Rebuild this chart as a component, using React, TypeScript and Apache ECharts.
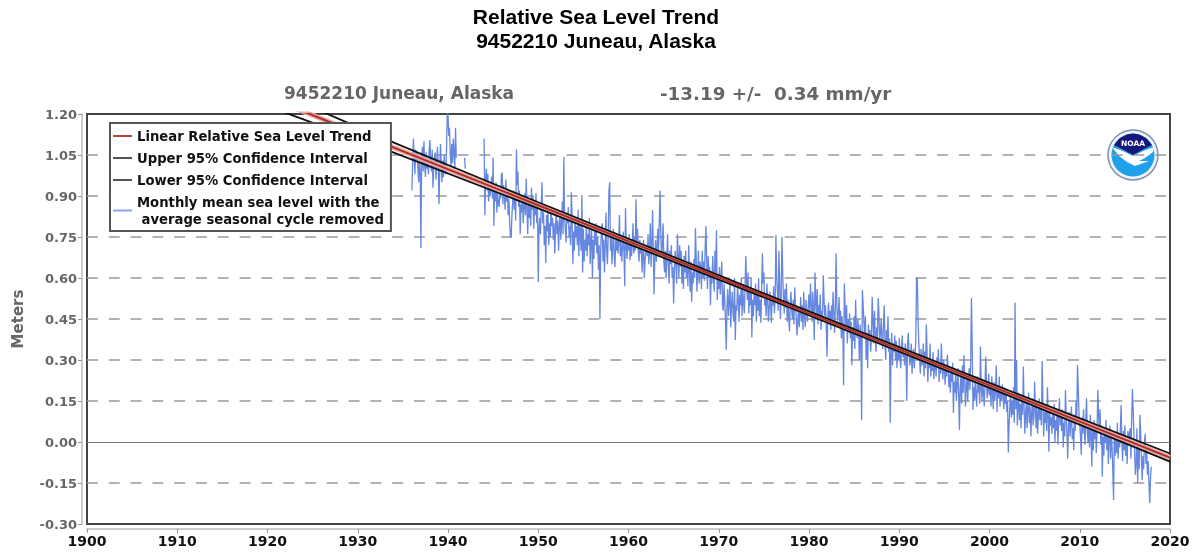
import React, { useEffect, useRef } from "react";
import * as echarts from "echarts";

const FIRST_YEAR = 1936;
const _ = null;
// monthly mean sea level (m), one row per year from 1936
const monthlyRows: (number | null)[][] = [
  [.92,1.02,1.11,1.05,.98,1.07,1.03,1.06,1.00,.95,1.04,.99],
  [.71,1.05,1.08,.99,1.10,1.01,.97,1.06,1.00,1.03,.98,1.07],
  [1.105,1.02,.99,1.07,.93,1.00,1.04,1.06,.96,1.02,1.08,1.01],
  [.87,.99,1.09,1.02,.95,1.03,.97,1.05,1.00,.98,1.06,1.20],
  [1.20,1.12,1.15,1.05,1.01,1.09,1.02,1.11,1.06,1.00,1.15,1.04],
  [_,_,_,_,_,_,_,_,_,_,1.04,1.00],
  [_,_,_,_,_,_,_,_,_,_,_,_],
  [_,_,_,_,_,_,_,_,_,_,_,_],
  [1.11,.83,.96,1.00,.92,.98,.88,.95,.90,.93,.97,.89],
  [1.04,.79,.93,.88,.95,.84,.91,.87,.86,.92,.89,.98],
  [.985,.87,.94,.90,.85,.96,.88,.92,.83,.89,.80,.75],
  [.75,.83,.88,.92,.85,.90,.81,1.07,.94,.99,.86,.92],
  [.76,.87,.84,.90,.80,.86,.91,.83,.964,.85,.76,.88],
  [.82,.88,.79,.93,.85,.90,.78,.86,.83,.91,.80,.87],
  [.585,.78,.82,.76,.87,.95,.80,.84,.72,.79,.655,.83],
  [.77,.84,.72,.80,.75,.86,.79,.82,.74,.80,.69,.78],
  [.85,.76,.81,.70,.79,.83,.74,.80,.88,.76,1.043,.82],
  [.78,.73,.84,.80,.86,.75,.79,.72,.914,.83,.65,.77],
  [.70,.82,.75,.79,.72,.85,.68,.80,.76,.70,.904,.62],
  [.78,.66,.74,.70,.80,.68,.76,.72,.82,.65,.73,.78],
  [.60,.74,.67,.77,.72,.80,.69,.75,.63,.72,.45,.70],
  [.78,.80,.66,.74,.62,.71,.84,.70,.65,.76,.92,.95],
  [.70,.75,.65,.72,.78,.68,.64,.74,.70,.76,.69,.73],
  [.83,.68,.74,.66,.71,.77,.69,.57,.855,.72,.67,.74],
  [.70,.76,.665,.73,.68,.72,.80,.69,.75,.70,.888,.73],
  [.78,.70,.66,.74,.69,.72,.62,.68,.74,.60,.66,.70],
  [.72,.68,.76,.65,.70,.80,.64,.72,.849,.70,.54,.68],
  [.74,.66,.72,.78,.70,.82,.92,.75,.68,.72,.80,.66],
  [.62,.70,.60,.68,.76,.64,.58,.70,.65,.72,.60,.64],
  [.507,.62,.70,.66,.58,.76,.68,.60,.72,.64,.70,.58],
  [.66,.56,.68,.62,.70,.60,.65,.57,.72,.63,.55,.66],
  [.513,.62,.58,.67,.60,.782,.68,.55,.62,.70,.58,.66],
  [.64,.56,.70,.60,.66,.59,.72,.79,.65,.56,.68,.60],
  [.64,.50,.62,.58,.68,.60,.55,.70,.62,.775,.52,.60],
  [.56,.64,.54,.60,.66,.50,.48,.58,.52,.44,.337,.50],
  [.56,.46,.52,.58,.42,.50,.55,.47,.44,.60,.373,.50],
  [.48,.58,.52,.44,.54,.50,.60,.46,.56,.51,.47,.57],
  [.68,.58,.52,.62,.47,.56,.50,.60,.382,.52,.46,.55],
  [.50,.58,.44,.54,.48,.60,.46,.52,.436,.56,.69,.58],
  [.62,.50,.54,.46,.58,.52,.44,.48,.55,.50,.436,.53],
  [.50,.57,.47,.52,.757,.60,.55,.48,.70,.58,.45,.53],
  [.75,.62,.53,.47,.56,.49,.58,.44,.52,.46,.404,.50],
  [.55,.48,.45,.52,.43,.566,.50,.46,.39,.44,.49,.42],
  [.47,.53,.44,.50,.41,.55,.46,.42,.52,.47,.44,.50],
  [.54,.47,.58,.50,.44,.55,.48,.373,.62,.52,.46,.56],
  [.43,.50,.46,.54,.41,.48,.44,.61,.52,.46,.50,.42],
  [.312,.46,.51,.43,.48,.41,.50,.45,.55,.47,.40,.49],
  [.69,.50,.44,.47,.53,.42,.48,.38,.46,.41,.208,.58],
  [.49,.42,.50,.36,.45,.40,.47,.38,.44,.281,.42,.37],
  [.46,.34,.52,.41,.38,.45,.40,.30,.43,.37,.08,.556],
  [.50,.44,.38,.46,.30,.40,.27,.43,.37,.41,.33,.38],
  [.531,.44,.36,.48,.40,.33,.42,.38,.527,.47,.36,.40],
  [.45,.38,.34,.43,.50,.37,.30,.41,.35,.46,.33,.38],
  [.07,.32,.40,.28,.36,.33,.39,.30,.37,.27,.35,.30],
  [.38,.30,.27,.35,.39,.31,.34,.28,.36,.32,.15,.35],
  [.40,.33,.28,.30,.36,.25,.31,.34,.27,.32,.37,.60],
  [.60,.45,.36,.31,.25,.34,.28,.29,.36,.24,.33,.27],
  [.43,.33,.22,.30,.27,.36,.24,.30,.26,.33,.23,.28],
  [.29,.24,.31,.27,.34,.22,.29,.25,.36,.28,.23,.30],
  [.27,.21,.28,.24,.32,.26,.20,.25,.18,.27,.22,.29],
  [.106,.22,.18,.25,.15,.21,.27,.17,.044,.20,.24,.14],
  [.28,.18,.318,.23,.13,.20,.25,.15,.22,.27,.19,.30],
  [.527,.35,.117,.20,.15,.22,.17,.13,.24,.18,.21,.14],
  [.349,.20,.15,.23,.18,.13,.21,.312,.22,.16,.19,.25],
  [.17,.21,.13,.24,.18,.12,.22,.15,.19,.28,.11,.20],
  [.16,.24,.13,.19,.15,.21,.17,.12,.20,.14,.18,.11],
  [.15,-.038,.06,.13,.18,.09,.15,.10,.20,.07,.51,.12],
  [.30,.06,.12,.18,.08,.14,.05,.17,.10,.276,.13,.03],
  [.10,.15,.05,.12,.18,.07,.13,.02,.10,.16,.06,.09],
  [.22,.12,.05,.13,.03,.10,.16,.08,.14,.06,.296,.15],
  [.02,.11,.07,.13,.04,.20,.10,-.036,.12,.06,.09,.03],
  [.11,.05,.14,.00,.08,.04,.12,-.01,.09,.16,.06,.10],
  [.04,.12,-.02,.07,.02,.19,.09,.03,-.06,.06,.11,.02],
  [.07,.13,.01,.05,-.03,.10,.04,.15,.08,.282,.20,.10],
  [.07,.02,-.047,.09,.03,.12,.05,-.01,.08,.16,.04,.00],
  [.06,-.02,.10,.03,-.09,.05,-.03,.08,.01,.06,-.04,.04],
  [.19,.10,.04,.12,-.01,.06,-.127,.02,-.05,.05,.00,.08],
  [-.03,.05,-.08,.01,.06,-.06,.03,-.02,-.11,-.212,.04,-.05],
  [.02,-.04,.07,-.06,.03,-.02,.05,.135,.00,-.07,.04,-.03],
  [.06,-.05,.02,-.08,.04,-.01,.03,.05,-.06,.08,.194,.12],
  [.03,-.04,-.12,-.08,.05,-.15,-.02,-.10,.10,.03,-.06,-.14],
  [-.05,-.10,.00,.03,-.08,-.03,-.12,-.07,-.15,-.223,-.14,-.09],
];

const trendYears = [1900, 1923, 1934, 1950, 1977, 2000, 2020];
const trendValues = [1.526, 1.222, 1.077, 0.866, 0.51, 0.207, -0.057];
const upperValues = [1.576, 1.252, 1.095, 0.877, 0.517, 0.216, -0.042];
const lowerValues = [1.476, 1.192, 1.059, 0.855, 0.503, 0.198, -0.072];

const NAME_TREND = "Linear Relative Sea Level Trend";
const NAME_UPPER = "Upper 95% Confidence Interval";
const NAME_LOWER = "Lower 95% Confidence Interval";
const NAME_MONTHLY = "Monthly mean sea level with the\n average seasonal cycle removed";

const FONT = '"DejaVu Sans", sans-serif';
const DASH = "#999";
const NONE = "rgba(0,0,0,0)";

export default function App() {
  const ref = useRef<HTMLDivElement>(null);
  useEffect(() => {
    if (!ref.current) return;
    document.body.style.margin = "0";
    document.body.style.background = "#fff";
    const chart = echarts.init(ref.current, undefined, { renderer: "svg" });
    const monthly: [number, number | null][] = [];
    monthlyRows.forEach((row, y) =>
      row.forEach((v, m) => monthly.push([FIRST_YEAR + y + m / 12, v])),
    );
    const zip = (vals: number[]) => trendYears.map((y, i) => [y, vals[i]]);
    const lineSeries = (name: string, vals: number[], color: string, width: number, z: number) => ({
      name,
      type: "line",
      data: zip(vals),
      showSymbol: false,
      symbol: "none",
      z,
      silent: true,
      clip: true,
      lineStyle: { color, width },
      itemStyle: { color },
    });
    chart.setOption({
      animation: false,
      backgroundColor: "#fff",
      title: [
        {
          text: "Relative Sea Level Trend",
          left: 596,
          top: 6,
          padding: 0,
          textAlign: "center",
          textStyle: { fontFamily: '"Liberation Sans"', fontWeight: "bold", fontSize: 21, color: "#000" },
        },
        {
          text: "9452210 Juneau, Alaska",
          left: 596,
          top: 30,
          padding: 0,
          textAlign: "center",
          textStyle: { fontFamily: '"Liberation Sans"', fontWeight: "bold", fontSize: 21, color: "#000" },
        },
        {
          text: "9452210 Juneau, Alaska",
          left: 284,
          top: 84,
          padding: 0,
          textStyle: { fontFamily: FONT, fontWeight: "bold", fontSize: 17, color: "#666" },
        },
        {
          text: "-13.19 +/-  0.34 mm/yr",
          left: 660,
          top: 84,
          padding: 0,
          textStyle: { fontFamily: FONT, fontWeight: "bold", fontSize: 18.3, color: "#666" },
        },
      ],
      grid: { left: 87, right: 27, top: 114, bottom: 28, show: true, borderColor: "#444", borderWidth: 2, backgroundColor: "#fff" },
      legend: {
        left: 110,
        top: 123,
        orient: "vertical",
        selectedMode: false,
        icon: "rect",
        data: [
          { name: NAME_TREND, itemStyle: { color: "#c0403c" } },
          { name: NAME_UPPER, itemStyle: { color: "#555" } },
          { name: NAME_LOWER, itemStyle: { color: "#555" } },
          { name: NAME_MONTHLY, itemStyle: { color: "#8aa5e8" } },
        ],
        itemWidth: 19,
        itemHeight: 2,
        itemGap: 5,
        padding: [4.5, 7, 3.5, 3],
        backgroundColor: "#fff",
        borderColor: "#555",
        borderWidth: 2,
        textStyle: { fontFamily: FONT, fontWeight: "bold", fontSize: 13.2, color: "#111", lineHeight: 17 },
        z: 20,
      },
      xAxis: {
        type: "value",
        min: 1900,
        max: 2020,
        interval: 10,
        offset: 5,
        axisLine: { show: true, onZero: false, lineStyle: { color: "#bbb", width: 1.5 } },
        axisTick: { show: true, length: 4, lineStyle: { color: "#999" } },
        axisLabel: {
          margin: 5,
          fontFamily: FONT,
          fontWeight: "bold",
          fontSize: 14,
          color: "#111",
          formatter: (v: number) => String(v),
        },
        splitLine: { show: false },
      },
      yAxis: {
        type: "value",
        min: -0.3,
        max: 1.2,
        interval: 0.15,
        offset: 5,
        name: "Meters",
        nameLocation: "middle",
        nameGap: 57,
        nameRotate: 90,
        nameTextStyle: { fontFamily: FONT, fontWeight: "bold", fontSize: 15, color: "#666" },
        axisLine: { show: true, onZero: false, lineStyle: { color: "#bbb", width: 1.5 } },
        axisTick: { show: true, length: 4, lineStyle: { color: "#999" } },
        axisLabel: {
          margin: 5,
          fontFamily: FONT,
          fontWeight: "bold",
          fontSize: 13,
          color: "#666",
          formatter: (v: number) => v.toFixed(2),
        },
        splitLine: {
          show: true,
          showMinLine: false,
          showMaxLine: false,
          lineStyle: {
            color: [DASH, NONE, DASH, DASH, DASH, DASH, DASH, DASH, DASH, DASH],
            width: 1.6,
            type: [10.9, 10.9],
          },
        },
      },
      series: [
        {
          name: NAME_MONTHLY,
          type: "line",
          data: monthly,
          showSymbol: false,
          symbol: "none",
          connectNulls: false,
          z: 2,
          silent: true,
          lineStyle: { color: "#6687e0", width: 1.3 },
          itemStyle: { color: "#7f9be3" },
          markLine: {
            silent: true,
            symbol: "none",
            z: 1,
            label: { show: false },
            lineStyle: { color: "#777", width: 1.2, type: "solid" },
            data: [{ yAxis: 0 }],
          },
        },
        lineSeries("trend glow", trendValues, "#e9aaa2", 5, 3),
        lineSeries(NAME_UPPER, upperValues, "#111", 1.8, 4),
        lineSeries(NAME_LOWER, lowerValues, "#111", 1.8, 4),
        lineSeries(NAME_TREND, trendValues, "#b02c2a", 2, 5),
      ],
      graphic: [
        {
          type: "group",
          x: 1133,
          y: 155,
          z: 30,
          children: [
            { type: "circle", shape: { cx: 0, cy: 0, r: 25 }, style: { fill: "#f2f4f8", stroke: "#7f8fb5", lineWidth: 1.5 } },
            { type: "circle", shape: { cx: 0, cy: 0, r: 21.5 }, style: { fill: "#1ea0ea" } },
            {
              type: "polygon",
              shape: { points: [[-19, -10], [-13, -17], [-6, -20.5], [0, -21.5], [6, -20.5], [13, -17], [19, -10], [9, -5], [0, 0], [-9, -5]] },
              style: { fill: "#15157a" },
            },
            {
              type: "polygon",
              shape: { points: [[-21, -8], [-10, -4], [0, 1], [10, -4], [21, -8], [20, -3], [12, 3], [6, 6], [16, 6], [2, 11], [-6, 7], [-14, 1]] },
              style: { fill: "#fff" },
            },
            {
              type: "text",
              x: 0,
              y: -12,
              style: { text: "NOAA", fill: "#fff", fontFamily: FONT, fontWeight: "bold", fontSize: 7.5, align: "center", verticalAlign: "middle" },
            },
          ],
        },
      ],
    });
    return () => chart.dispose();
  }, []);
  return <div ref={ref} style={{ position: "fixed", left: 0, top: 0, width: 1197, height: 552, filter: "blur(0.4px)" }} />;
}
